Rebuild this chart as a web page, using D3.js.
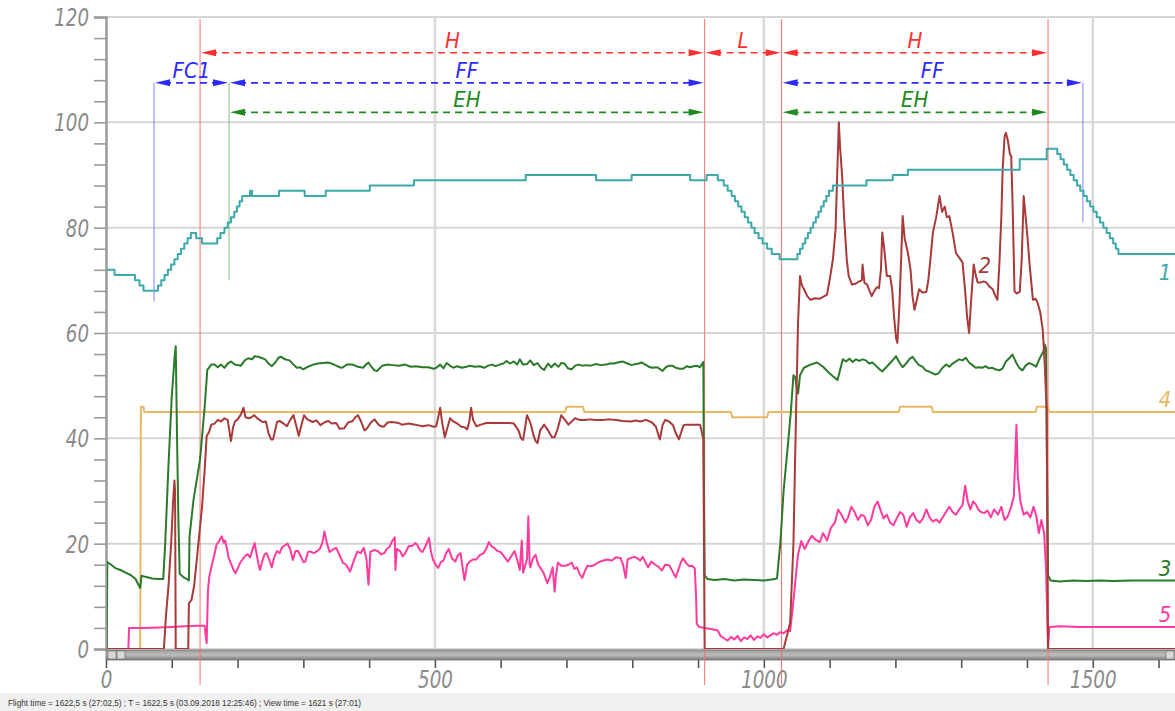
<!DOCTYPE html>
<html>
<head>
<meta charset="utf-8">
<script src="https://cdn.jsdelivr.net/npm/d3@7"></script>
<style>
  html, body { margin: 0; padding: 0; background: #fff; }
  svg { display: block; }
  .num { font-family: "Liberation Sans Narrow", "DejaVu Sans Condensed", "Liberation Sans", sans-serif; font-style: italic; }
</style>
</head>
<body>
<div id="chart"></div>
<script>
// series: [time s, value]
const s1Teal = [[0,72],[13,71],[44,70],[51,69],[57,68],[79,69],[84,70],[89,71],[94,72],[99,73],[104,74],[109,75],[114,76],[119,77],[124,78],[129,79],[137,78],[146,77],[169,78],[174,79],[180,80],[185,81],[190,82],[195,83],[199,84],[203,85],[207,86],[219,87],[222,86],[263,87],[302,86],[334,87],[401,88],[468,89],[638,90],[745,89],[799,90],[888,89],[913,90],[930,89],[939,88],[945,87],[951,86],[956,85],[961,84],[966,83],[971,82],[976,81],[981,80],[986,79],[992,78],[998,77],[1005,76],[1012,75],[1024,74],[1051,75],[1055,76],[1059,77],[1063,78],[1067,79],[1071,80],[1075,81],[1079,82],[1083,83],[1087,84],[1091,85],[1095,86],[1099,87],[1105,88],[1156,89],[1196,90],[1219,91],[1389,93],[1430,95],[1446,94],[1451,93],[1456,92],[1461,91],[1466,90],[1471,89],[1476,88],[1481,87],[1486,86],[1491,85],[1496,84],[1501,83],[1506,82],[1511,81],[1516,80],[1521,79],[1526,78],[1531,77],[1535,76],[1539,75],[1625,75]];

const s2Brown = [[0,0],[88,0],[91,6],[95,12],[99,20],[102,28],[104,32],[105,30],[106,0],[125,0],[126,8.7],[130,9.3],[134,12],[140,19.5],[146,27],[150,34],[153,40.4],[157,41.3],[160,42.6],[165,42.8],[170,43.5],[175,43.2],[180,43.8],[185,43.5],[188,41],[190,39.5],[193,42],[196,43.2],[200,43.6],[205,44.5],[209,45.8],[212,44],[217,43.8],[221,44],[225,44.4],[230,43.8],[238,43.1],[243,43.2],[247,41],[251,39.8],[254,39.8],[257,41.5],[260,43.1],[264,43.3],[270,42.8],[275,42.3],[280,43.5],[285,44.4],[289,42.5],[293,40.5],[297,42.5],[301,44.4],[306,43.6],[314,43.1],[320,43.4],[326,42.5],[333,43.1],[338,43.3],[343,42.8],[350,42.9],[355,41.8],[362,41.9],[368,43],[375,43.3],[379,44],[383,44.4],[388,43.1],[393,41.5],[397,41.9],[402,42.9],[408,43.6],[415,42.5],[420,42.2],[423,42.3],[428,43],[434,43.1],[440,43],[445,42.9],[450,42.6],[460,42.8],[470,42.6],[481,42.3],[490,42.5],[498,42.2],[502,42.3],[505,44],[508,45.8],[511,43],[515,40.2],[519,42],[523,43.8],[528,43.2],[534,42.8],[540,42.2],[545,42.1],[549,41.7],[552,43],[555,45.8],[558,43.5],[563,42.3],[570,42.6],[578,42.9],[587,42.9],[595,42.9],[605,42.9],[613,42.9],[620,42.8],[627,41.5],[631,40],[634,39.7],[637,42],[640,44.4],[645,43],[650,40.5],[653,39.5],[656,39.1],[660,41.5],[666,42.6],[672,41.5],[678,40.2],[682,40.2],[687,42],[692,44.4],[697,43.6],[703,42.6],[708,43.2],[713,43.8],[720,43.5],[728,43.5],[735,43.6],[745,43.5],[755,43.5],[765,43.6],[776,43.5],[785,43.3],[798,43.2],[805,43.4],[812,43.2],[821,43.5],[830,43],[836,42.2],[840,40.5],[842,39.8],[846,42.5],[850,43.5],[856,43.2],[862,42.5],[866,41],[871,39.8],[874,41],[878,42.5],[882,42.6],[890,42.6],[897,42.6],[903,42.6],[906,41],[908,39.8],[909,20],[910,0],[1030,0],[1040,5],[1045,20],[1049,45],[1052,62],[1055,70.8],[1058,69],[1061,68.3],[1066,67],[1071,66.3],[1078,66.6],[1085,66.5],[1092,67],[1096,67.3],[1101,70.8],[1105,74],[1109,79.6],[1111,88],[1114,100],[1116,95],[1119,89.8],[1122,82],[1126,74],[1129,70.8],[1134,69.2],[1140,69.4],[1145,69.8],[1149,70],[1150,73],[1153,69.5],[1157,69.2],[1160,68.2],[1164,67],[1168,68],[1172,68.7],[1175,68.5],[1178,72],[1180,79.1],[1183,76],[1187,70.8],[1192,70.8],[1195,68.3],[1198,63],[1201,59],[1203,58.1],[1206,65],[1209,75],[1211,82.2],[1214,78],[1219,75.2],[1223,72],[1226,67],[1229,64.4],[1232,66],[1236,68.3],[1241,67.7],[1247,67.8],[1250,70],[1254,75],[1257,79.1],[1262,82],[1267,86],[1271,83],[1275,84],[1278,82],[1282,82.2],[1287,79],[1292,75.2],[1297,74.3],[1302,73.4],[1306,68],[1309,63],[1312,60],[1315,66],[1319,73],[1322,71],[1325,69.6],[1330,69.6],[1334,69.8],[1338,69.6],[1343,68.8],[1348,68.3],[1352,67],[1355,66.3],[1358,73],[1361,82],[1363,91],[1366,97.4],[1368,98],[1371,96.5],[1374,94],[1376,93.6],[1378,85],[1380,74],[1381,68],[1384,67.5],[1389,67.8],[1392,74],[1395,86],[1398,82],[1401,77.8],[1404,73],[1407,69],[1409,66.3],[1413,66.5],[1416,65.8],[1420,64],[1424,60.6],[1427,54],[1430,45.4],[1431,20],[1432,0],[1625,0]];

const s3Green = [[0,0],[1,0],[2,16.5],[8,16],[15,15.3],[22,15],[30,14.5],[38,14],[45,13.3],[50,12],[52,11.6],[54,13.9],[60,13.7],[70,13.4],[80,13.3],[87,13.3],[90,20],[95,35],[100,48],[104,55],[106,57.5],[108,40],[110,25],[112,14.3],[118,13.6],[124,13.2],[126,13],[127,21.4],[133,28.3],[143,36],[150,46],[154,53],[160,54],[165,54],[170,53.5],[175,54],[180,53.4],[185,54.2],[190,54.6],[196,54],[205,53.8],[211,54.8],[216,55.2],[222,55],[226,55.6],[231,55.5],[236,55.3],[242,55],[247,54.2],[252,53.7],[258,54.5],[262,55.3],[266,55.5],[272,55],[279,54.8],[285,54],[290,53.4],[295,53.5],[300,53.1],[307,53.6],[315,54],[322,54.2],[330,54.3],[337,54.4],[343,54.2],[350,53.8],[355,53.5],[359,53.4],[366,54],[375,54],[383,53.6],[391,53.4],[395,54],[399,54.4],[404,53.5],[408,52.9],[412,52.8],[420,53.8],[428,54],[436,53.9],[445,53.8],[455,54],[463,53.6],[471,53.7],[481,53.5],[490,53.5],[498,53.2],[502,53.4],[508,54],[513,53.3],[518,54.3],[524,53.7],[528,53.4],[534,53.7],[541,53.4],[548,53.6],[553,53.8],[561,53.6],[568,53.7],[575,53.4],[581,53.8],[587,54],[592,53.7],[598,54],[604,54.2],[609,54.7],[614,54.2],[620,54.6],[625,54],[629,55],[634,54],[640,54.1],[645,54.8],[650,53.9],[656,54.3],[661,53.4],[666,53],[672,54.2],[677,53.5],[682,54.2],[688,53.6],[692,54.3],[697,54.2],[702,53.3],[708,53.1],[713,53.8],[718,54],[724,53.8],[730,53.9],[737,53.8],[745,54.1],[752,53.9],[760,54],[766,54.2],[772,54.2],[778,54.4],[785,54.6],[791,54.3],[799,53.9],[805,54.1],[810,54.2],[814,54.4],[820,54],[825,53.6],[830,53.4],[838,53.5],[846,52.8],[851,53.5],[856,53.8],[861,53.8],[866,53.4],[872,53.2],[877,53.2],[883,53.7],[888,53.5],[893,53.7],[898,53.8],[903,53.5],[907,54.3],[908,54.5],[909,30],[910,14],[914,13.3],[925,13.1],[940,13.3],[955,13],[970,13.2],[985,13.1],[1000,13],[1012,13.2],[1020,13.4],[1025,20],[1030,30],[1036,38],[1041,45],[1045,52],[1048,51.5],[1050,49.6],[1052,48.5],[1055,52],[1061,53.4],[1071,54],[1081,54.4],[1090,53.6],[1097,52.7],[1105,51.8],[1112,51.1],[1116,53],[1120,55],[1125,54.6],[1130,55.1],[1135,54.5],[1140,55],[1145,54.7],[1150,55],[1155,54.8],[1160,54.2],[1165,54.4],[1170,53.8],[1175,53.2],[1180,52.7],[1186,53.5],[1192,54.3],[1197,55],[1201,55.6],[1206,54.4],[1211,53.5],[1216,54.2],[1221,55],[1226,55.5],[1231,54.6],[1236,53.9],[1241,53.6],[1246,52.9],[1251,52.7],[1256,52.4],[1261,52.1],[1266,52.4],[1271,53.3],[1277,54],[1282,53.6],[1287,54.2],[1292,54.6],[1297,55],[1302,54.8],[1307,55.3],[1312,54.4],[1317,53.9],[1322,53.4],[1327,53.5],[1332,53.4],[1337,53.7],[1342,53.3],[1347,53.4],[1352,53.1],[1358,52.9],[1363,53.3],[1368,54.6],[1373,55.2],[1378,55.9],[1383,54.5],[1388,53.4],[1393,52.9],[1398,53.8],[1403,54.3],[1409,54],[1414,53.6],[1418,54.8],[1421,55.6],[1425,56.5],[1427,57.8],[1429,57],[1430,40],[1432,14],[1436,13],[1450,12.8],[1470,13],[1490,12.9],[1510,13],[1530,12.9],[1560,13],[1590,13],[1625,13]];

const s4Orange = [[0,0],[52,0],[53,46],[57,46],[58,45],[698,45],[700,46],[725,46],[727,45],[950,45],[952,44],[1005,44],[1007,45],[1205,45],[1207,46],[1255,46],[1257,45],[1413,45],[1415,46],[1432,46],[1434,45],[1625,45]];

const s5Pink = [[0,0],[34,0],[35,4],[60,4],[80,4.1],[100,4.2],[120,4.3],[140,4.4],[150,4.4],[152,2],[153,1.1],[154,6],[155,11.2],[157,13.7],[161,16],[164,17.5],[168,19.8],[172,20.5],[176,21.4],[179,20.2],[181,20.6],[184,19],[186,17.5],[190,16.2],[194,15],[197,14.4],[201,15.5],[204,16.4],[207,16.9],[211,17.6],[215,18],[219,17.4],[223,19],[226,20.1],[229,18],[232,16],[234,15],[238,16.8],[241,18],[244,18.2],[248,17],[252,15.5],[256,17.5],[260,18.6],[264,18.2],[268,19.4],[271,19.6],[276,20],[280,19],[284,16.9],[288,18.6],[292,18.6],[296,17.6],[300,16.5],[303,16.6],[307,18.4],[311,18.5],[316,18.2],[321,18.6],[325,19],[329,20.2],[332,22.3],[336,20],[340,18.4],[345,18.9],[350,19.2],[355,17.8],[360,16.4],[365,16],[371,14.7],[376,16.5],[382,18.5],[387,18.2],[392,19.2],[396,17],[399,12.2],[402,18.5],[408,18.8],[413,18.6],[418,18],[423,18.2],[427,19],[431,19.4],[435,20.5],[439,21.2],[440,15],[442,19],[447,18.6],[451,17.6],[455,18.2],[460,19.5],[466,19.6],[470,20.1],[473,19.8],[477,18.8],[481,18.4],[486,19.6],[491,21.1],[494,18.5],[497,17],[501,16],[505,15.4],[509,16.5],[513,16.8],[517,18.2],[521,19],[526,17.2],[531,16.6],[535,17.8],[539,18.2],[542,15.5],[545,13.1],[549,16],[553,16.6],[558,17],[563,17],[568,17.8],[574,18.2],[578,19],[582,20.3],[586,19.5],[590,19.2],[595,18.6],[600,18.4],[605,17.6],[611,16.6],[616,17.6],[621,18.6],[625,17],[629,15],[632,20.6],[634,14.5],[637,15.8],[640,17],[642,25.2],[644,16],[645,15.5],[649,17.2],[653,17.9],[657,16],[660,15.5],[665,14.5],[671,12.5],[675,13.8],[679,15.5],[682,10.9],[684,14],[687,16.4],[692,15.8],[698,15.8],[703,16],[708,16.4],[712,15.2],[716,15.5],[720,14.2],[724,13.5],[728,14.8],[732,15.8],[737,15.7],[743,16],[749,16.5],[756,16.8],[762,17],[769,16.8],[775,17.4],[782,17.3],[786,16],[790,13.5],[793,17],[798,17.3],[803,17.5],[808,17.2],[812,16.8],[816,17.5],[820,16.5],[824,15.5],[829,16.6],[835,16],[840,15.6],[845,14.9],[850,16],[856,15.9],[861,14.8],[866,13.6],[870,15],[874,16.5],[877,17.2],[882,16.3],[887,15.7],[891,15.8],[895,15.3],[897,10],[898,4.9],[901,4.2],[910,4],[920,3.8],[930,3.5],[934,2.5],[940,2],[945,1.6],[950,2.3],[955,1.8],[960,2.5],[965,1.5],[970,2.2],[975,1.9],[980,2.6],[985,1.7],[990,2.4],[995,2.1],[1000,2.8],[1005,2.2],[1010,2.6],[1015,3],[1020,2.7],[1025,3.2],[1030,3],[1035,3.5],[1040,3.4],[1044,8],[1048,13],[1052,18],[1057,20.5],[1062,19],[1068,20.5],[1073,21.5],[1079,20.7],[1085,20.3],[1090,22],[1096,20.6],[1102,23],[1108,24],[1113,26.5],[1118,25.5],[1124,24],[1128,25],[1133,27],[1138,26],[1143,24.5],[1148,25.5],[1153,25.2],[1158,23.5],[1163,24.5],[1168,27],[1173,28],[1177,26.5],[1182,24.8],[1187,25.5],[1192,24],[1197,23.5],[1202,24.8],[1207,26],[1212,25.5],[1217,23.2],[1222,25],[1227,25.8],[1232,24.5],[1237,24],[1242,24.8],[1247,26.5],[1252,25],[1257,24.2],[1262,24.6],[1267,24],[1272,25],[1277,26],[1282,27],[1287,26],[1292,25.5],[1297,26.5],[1302,27.3],[1306,31],[1310,28],[1314,26.5],[1318,28],[1322,27.5],[1326,26.5],[1330,26],[1335,25.8],[1340,26.3],[1345,25],[1350,26.5],[1356,25.5],[1361,27],[1366,24.5],[1371,25.2],[1376,27],[1380,29],[1384,42.6],[1386,33],[1390,28],[1395,25.5],[1400,26],[1405,25],[1410,27],[1414,25.4],[1418,22],[1422,24.5],[1426,22],[1429,15],[1431,5],[1432,0],[1434,4.2],[1450,4.3],[1480,4.2],[1520,4.2],[1560,4.2],[1600,4.2],[1625,4.2]];

const seriesNames = ["1", "2", "3", "4", "5"];
const seriesLabelAt = [[1610, 70], [1336, 71.3], [1610, 13.8], [1610, 46], [1610, 5.2]];

// phase spans [label, from, to]
const spansH = [["H", 143, 910], ["L", 910, 1027], ["H", 1027, 1432]];
const spansF = [["FC1", 73, 187], ["FF", 187, 910], ["FF", 1027, 1485]];
const spansE = [["EH", 187, 910], ["EH", 1027, 1432]];
const redMarks = [143, 910, 1027, 1432];
const blueMarks = [[73, 66], [1485, 81]];
const greenMarks = [[187, 70]];

const yTicks = [0, 20, 40, 60, 80, 100, 120];
const xTicks = [0, 500, 1000, 1500];
const statusText = "Flight time = 1622,5 s (27:02,5) ; T = 1622,5 s (03.09.2018 12:25:46) ; View time = 1621 s (27:01)";

const W = 1175, H = 711;
const margin = { left: 106, right: 0, top: 17, bottom: 62 };

const x = d3.scaleLinear().domain([0, 1625]).range([margin.left, W]);
const y = d3.scaleLinear().domain([0, 120]).range([H - margin.bottom, margin.top]);

const svg = d3.select("#chart").append("svg")
  .attr("width", W).attr("height", H)
  .attr("viewBox", [0, 0, W, H]);

svg.append("clipPath").attr("id", "plot")
  .append("rect")
  .attr("x", margin.left + 1).attr("y", margin.top - 2)
  .attr("width", W - margin.left).attr("height", y(0) - margin.top + 2);

// grid
svg.append("g")
  .selectAll("line")
  .data(yTicks)
  .join("line")
  .attr("x1", margin.left).attr("x2", W)
  .attr("y1", d => y(d)).attr("y2", d => y(d))
  .attr("stroke", "#d6d6d6").attr("stroke-width", 2);

svg.append("g")
  .selectAll("line")
  .data(xTicks.filter(d => d > 0))
  .join("line")
  .attr("x1", d => x(d)).attr("x2", d => x(d))
  .attr("y1", margin.top).attr("y2", y(0))
  .attr("stroke", "#dadada").attr("stroke-width", 2.5);

// narrow italic numbers like the original software
const squeeze = sel => sel
  .attr("textLength", function() { return this.textContent.length * 11.6; })
  .attr("lengthAdjust", "spacingAndGlyphs");

// y axis
const yAxis = d3.axisLeft(y)
  .tickValues(d3.range(0, 121, 4))
  .tickSize(12)
  .tickFormat(d => yTicks.includes(d) ? d : "");

svg.append("g")
  .attr("transform", `translate(${margin.left},0)`)
  .call(yAxis)
  .call(g => g.select(".domain").attr("stroke", "#9a9a9a").attr("stroke-width", 2.5))
  .call(g => g.selectAll(".tick line").attr("stroke", "#9a9a9a").attr("stroke-width", 1.6))
  .call(g => g.selectAll(".tick text")
    .attr("class", "num")
    .attr("x", -17)
    .attr("dy", "0.36em")
    .attr("fill", "#8a8a8a")
    .attr("font-size", 24)
    .filter(function() { return this.textContent !== ""; })
    .call(squeeze));

// scroll bar under the plot
const sb = svg.append("g");
const grad = svg.append("defs").append("linearGradient")
  .attr("id", "sbg").attr("x1", 0).attr("x2", 0).attr("y1", 0).attr("y2", 1);
grad.append("stop").attr("offset", 0).attr("stop-color", "#9c9c9c");
grad.append("stop").attr("offset", 0.5).attr("stop-color", "#bdbdbd");
grad.append("stop").attr("offset", 1).attr("stop-color", "#7a7a7a");
sb.append("rect")
  .attr("x", margin.left).attr("y", y(0) + 1)
  .attr("width", W - margin.left).attr("height", 10)
  .attr("fill", "url(#sbg)").attr("stroke", "#777").attr("stroke-width", 0.8);
sb.selectAll("rect.btn")
  .data([margin.left + 2, margin.left + 11, W - 9])
  .join("rect")
  .attr("class", "btn")
  .attr("x", d => d).attr("y", y(0) + 2)
  .attr("width", 8).attr("height", 8)
  .attr("fill", "#d8d8d8").attr("stroke", "#666").attr("stroke-width", 0.6);

// x axis below scroll bar
const xAxis = d3.axisBottom(x)
  .tickValues(d3.range(0, 1625, 100))
  .tickSize(8)
  .tickFormat(d => xTicks.includes(d) ? d : "");

svg.append("g")
  .attr("transform", `translate(0,${y(0) + 11})`)
  .call(xAxis)
  .call(g => g.select(".domain").remove())
  .call(g => g.selectAll(".tick line").attr("stroke", "#555").attr("stroke-width", 1.6))
  .call(g => g.selectAll(".tick text")
    .attr("class", "num")
    .attr("y", 10)
    .attr("dy", "0.75em")
    .attr("fill", "#8a8a8a")
    .attr("font-size", 24)
    .filter(function() { return this.textContent !== ""; })
    .call(squeeze));

// phase marker lines
svg.append("g")
  .selectAll("line")
  .data(redMarks)
  .join("line")
  .attr("x1", d => x(d)).attr("x2", d => x(d))
  .attr("y1", margin.top + 2).attr("y2", 685)
  .attr("stroke", "#ff7070").attr("stroke-width", 1);

svg.append("g")
  .selectAll("line")
  .data(blueMarks)
  .join("line")
  .attr("x1", d => x(d[0])).attr("x2", d => x(d[0]))
  .attr("y1", y(107.5)).attr("y2", d => y(d[1]))
  .attr("stroke", "#8080ff").attr("stroke-width", 1);

svg.append("g")
  .selectAll("line")
  .data(greenMarks)
  .join("line")
  .attr("x1", d => x(d[0])).attr("x2", d => x(d[0]))
  .attr("y1", y(107.5)).attr("y2", d => y(d[1]))
  .attr("stroke", "#7fc07f").attr("stroke-width", 1);

// data lines
const line = d3.line().x(d => x(d[0])).y(d => y(d[1]));
const stepLine = d3.line().x(d => x(d[0])).y(d => y(d[1])).curve(d3.curveStepAfter);

const series = [
  { data: s4Orange, color: "#e8b865", gen: line },
  { data: s5Pink, color: "#ff3b9d", gen: line },
  { data: s3Green, color: "#2b7a2b", gen: line },
  { data: s2Brown, color: "#a83a3a", gen: line },
  { data: s1Teal, color: "#3ea9ab", gen: stepLine }
];

svg.append("g")
  .attr("clip-path", "url(#plot)")
  .selectAll("path")
  .data(series)
  .join("path")
  .attr("d", s => s.gen(s.data))
  .attr("fill", "none")
  .attr("stroke", s => s.color)
  .attr("stroke-width", 2)
  .attr("stroke-linejoin", "round");

const labelColors = ["#3ea9ab", "#a83a3a", "#2b7a2b", "#e8b865", "#ff3b9d"];
svg.append("g")
  .selectAll("text")
  .data(seriesNames)
  .join("text")
  .attr("class", "num")
  .attr("x", (d, i) => x(seriesLabelAt[i][0]))
  .attr("y", (d, i) => y(seriesLabelAt[i][1]))
  .attr("text-anchor", "middle")
  .attr("font-size", 22)
  .attr("fill", (d, i) => labelColors[i])
  .text(d => d);

// span arrows at top
function drawSpans(spans, level, color) {
  const yy = y(level);
  const g = svg.append("g");
  spans.forEach(([label, a, b]) => {
    const xa = x(a), xb = x(b);
    g.append("line")
      .attr("x1", xa + 10).attr("x2", xb - 10)
      .attr("y1", yy).attr("y2", yy)
      .attr("stroke", color).attr("stroke-width", 1.6)
      .attr("stroke-dasharray", "7,5");
    g.append("path")
      .attr("d", `M${xa + 1},${yy} L${xa + 16},${yy - 3.5} L${xa + 16},${yy + 3.5} Z`)
      .attr("fill", color);
    g.append("path")
      .attr("d", `M${xb - 1},${yy} L${xb - 16},${yy - 3.5} L${xb - 16},${yy + 3.5} Z`)
      .attr("fill", color);
    g.append("text")
      .attr("class", "num")
      .attr("x", (xa + xb) / 2)
      .attr("y", yy - 5)
      .attr("text-anchor", "middle")
      .attr("font-size", 22)
      .attr("fill", color)
      .text(label);
  });
}
drawSpans(spansH, 113.2, "#ff3030");
drawSpans(spansF, 107.5, "#2b2bff");
drawSpans(spansE, 101.9, "#1f8a1f");

// status bar
svg.append("rect")
  .attr("x", 0).attr("y", 693).attr("width", W).attr("height", 18)
  .attr("fill", "#f0f0f0");
svg.append("text")
  .attr("x", 8).attr("y", 706)
  .attr("font-family", "Liberation Sans, sans-serif")
  .attr("font-size", 8.2)
  .attr("fill", "#333")
  .text(statusText);
</script>
</body>
</html>
